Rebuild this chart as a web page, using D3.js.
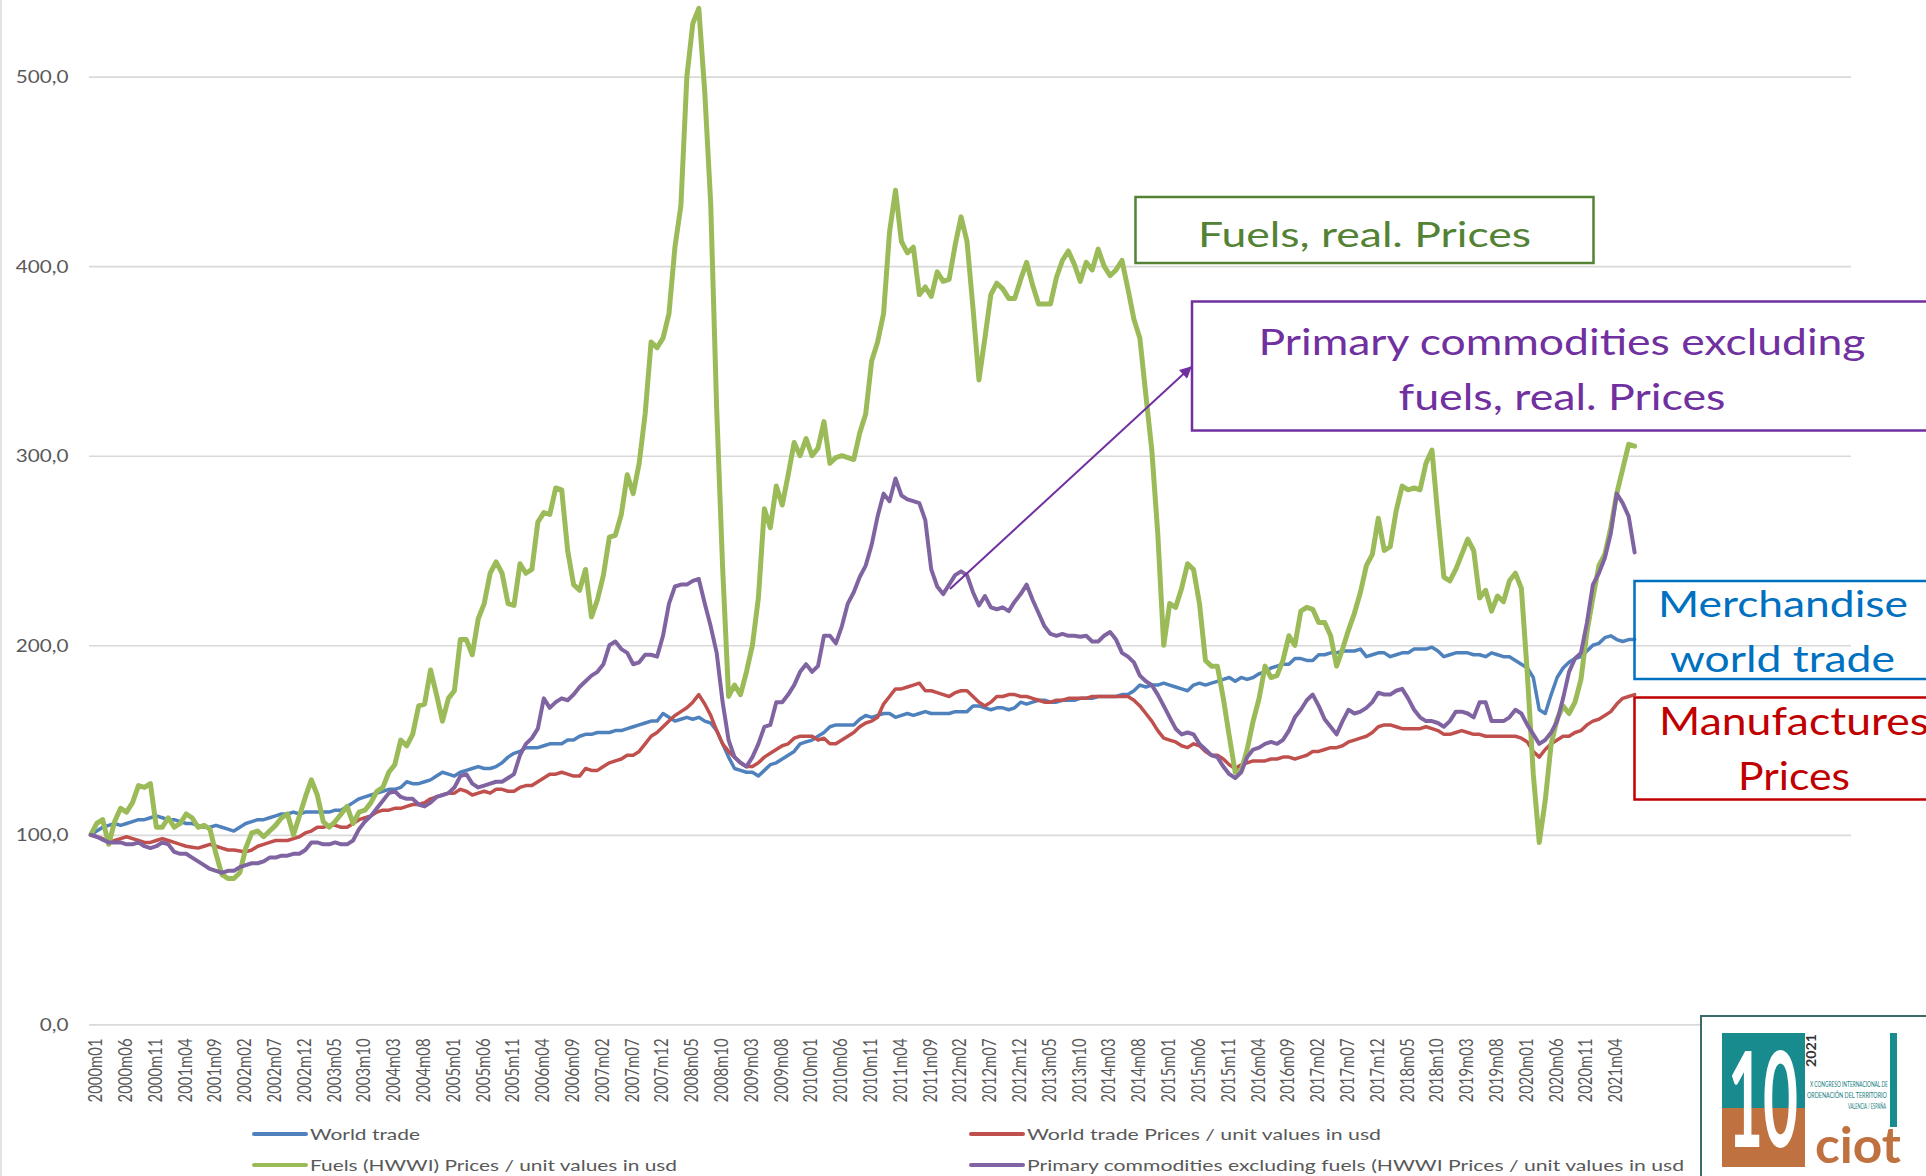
<!DOCTYPE html>
<html lang="en">
<head>
<meta charset="UTF-8" />
<title>World trade and prices, 2000m01 - 2021m08</title>
<script src="https://cdn.jsdelivr.net/npm/d3@7"></script>
<style>
  html, body { margin: 0; padding: 0; background: #fff; }
  svg { display: block; }
  text { font-family: Lato, "Liberation Sans", sans-serif; }
</style>
</head>
<body>
<div id="chart"></div>
<script>
// ---- data (index 2000m01 = 100) ----
const yTicks = [0, 100, 200, 300, 400, 500];

const tickLabels = [
  "2000m01","2000m06","2000m11","2001m04","2001m09","2002m02","2002m07","2002m12",
  "2003m05","2003m10","2004m03","2004m08","2005m01","2005m06","2005m11","2006m04",
  "2006m09","2007m02","2007m07","2007m12","2008m05","2008m10","2009m03","2009m08",
  "2010m01","2010m06","2010m11","2011m04","2011m09","2012m02","2012m07","2012m12",
  "2013m05","2013m10","2014m03","2014m08","2015m01","2015m06","2015m11","2016m04",
  "2016m09","2017m02","2017m07","2017m12","2018m05","2018m10","2019m03","2019m08",
  "2020m01","2020m06","2020m11","2021m04"
];

const worldTrade = [
  100,102,104,105,106,105,106,107,108,108, 109,110,109,108,108,107,106,106,105,104,
  104,105,104,103,102,104,106,107,108,108, 109,110,111,111,112,111,112,112,112,112,
  112,113,113,115,117,119,120,121,122,123, 124,124,125,128,127,127,128,129,131,133,
  132,131,133,134,135,136,135,135,136,138, 141,143,144,146,146,146,147,148,148,148,
  150,150,152,153,153,154,154,154,155,155, 156,157,158,159,160,160,164,162,160,161,
  162,161,162,160,159,155,148,141,135,134, 133,133,131,134,137,138,140,142,144,148,
  149,150,152,154,157,158,158,158,158,161, 163,162,163,164,164,162,163,164,163,164,
  165,164,164,164,164,165,165,165,168,168, 167,166,167,167,166,167,170,169,170,171,
  171,170,170,171,171,171,172,172,172,173, 173,173,173,174,174,176,179,178,179,179,
  180,179,178,177,176,179,180,179,180,181, 182,183,181,183,182,183,185,186,188,189,
  190,190,193,193,192,192,195,195,196,196, 197,197,197,198,194,195,196,196,194,195,
  196,196,198,198,198,199,197,194,195,196, 196,196,195,195,194,196,195,194,194,192,
  190,188,183,166,164,174,183,188,191,193, 194,197,200,201,204,205,203,202,203,203
];

const worldTradePrices = [
  100,99,98,96,97,98,99,98,97,96, 96,97,98,97,96,95,94,93.5,93,94,
  95,94,93,92,92,91.5,91,92,94,95, 96,97,97,97,98,99,101,102,104,104,
  105,105,104,104,106,108,109,110,112,113, 113,114,114,115,116,116,117,119,120,121,
  122,122,124,123,121,122,123,122,124,124, 123,123,125,126,126,128,130,132,132,133,
  132,131,131,135,134,134,136,138,139,140, 142,142,144,148,152,154,157,160,163,165,
  167,170,174,169,163,155,148,144,141,138, 136,136,138,141,143,145,147,148,151,152,
  152,152,150,151,148,148,150,152,154,157, 159,160,162,169,173,177,177,178,179,180,
  176,176,175,174,173,175,176,176,173,170, 168,170,173,173,174,174,173,173,172,171,
  170,170,171,171,172,172,172,172,173,173, 173,173,173,173,173,171,168,164,160,155,
  151,150,149,147,146,148,147,144,142,142, 140,137,135,137,138,139,139,139,140,140,
  141,141,140,141,142,144,144,145,146,146, 147,149,150,151,152,154,157,158,158,157,
  156,156,156,156,157,156,155,153,153,154, 155,154,153,153,152,152,152,152,152,152,
  151,149,144,141,145,148,150,152,152,154, 155,158,160,161,163,165,169,172,173,174
];

const fuels = [
  100,106,108,95,107,114,112,117,126,125, 127,104,104,109,104,106,111,109,104,105,
  103,90,79,77,77,80,93,101,102,99, 102,105,109,111,100,110,120,129,121,107,
  104,107,111,115,106,112,113,117,123,125, 133,137,150,147,153,168,169,187,174,160,
  172,176,203,203,195,214,222,238,244,238, 222,221,243,238,240,265,270,269,283,282,
  250,232,229,240,215,224,237,257,258,269, 290,280,296,322,360,357,362,375,410,432,
  500,528,536,492,433,325,241,173,179,174, 186,200,225,272,262,284,274,290,307,300,
  309,300,304,318,296,299,300,299,298,312, 322,350,360,375,418,440,413,407,410,385,
  389,384,397,392,393,411,426,413,378,340, 362,385,391,388,383,383,393,402,390,380,
  380,380,394,403,408,401,392,402,398,409, 400,395,398,403,388,372,362,332,303,259,
  200,222,220,230,243,240,222,192,189,189, 172,152,133,134,145,160,172,189,183,184,
  192,205,200,218,220,219,212,212,205,189, 198,208,217,228,242,248,267,250,252,271,
  284,282,283,282,296,303,268,236,234,240, 248,256,250,225,229,218,226,223,234,238,
  230,185,132,96,118,148,161,168,164,170, 182,207,225,242,248,262,280,293,306,305
];

const primaryNonFuel = [
  100,99,97.5,96,96,96,95,95,96,94, 93,94,96,95,91,90,90,88,86,84,
  82,81,80,81,81,83,84,85,85,86, 88,88,89,89,90,90,92,96,96,95,
  95,96,95,95,97,103,107,110,114,118, 122,123,120,119,119,116,115,117,120,121,
  122,125,131,132,127,125,126,127,128,128, 130,132,142,148,151,156,172,167,170,172,
  171,174,178,181,184,186,190,200,202,198, 196,190,191,195,195,194,205,222,231,232,
  232,234,235,222,210,196,170,150,141,138, 136,141,148,157,158,170,170,174,179,186,
  190,186,189,205,205,201,210,222,228,236, 242,253,268,280,276,288,279,277,276,275,
  266,240,231,227,232,237,239,237,228,221, 226,220,219,220,218,223,227,232,224,217,
  210,206,205,206,205,205,204.5,205,202,202, 205,207,203,196,194,191,184,181,179,174,
  168,162,156,153,154,153,148,145,142,141, 136,132,130,133,141,145,146,148,149,148,
  150,155,162,166,171,174,168,161,157,153, 160,166,164,165,167,170,175,174,174,176,
  177,172,166,162,160,160,159,157,160,165, 165,164,162,170,170,160,160,160,162,166,
  164,158,153,148,150,154,160,172,186,193, 196,212,232,238,246,259,280,275,268,249
];

// category axis runs past the data (empty slots on the right)
const startYear = 2000;
const slotCount = 296;
const months = d3.range(slotCount).map(i =>
  `${startYear + Math.floor(i / 12)}m${String(i % 12 + 1).padStart(2, "0")}`);

const series = [
  { name: "World trade", values: worldTrade, color: "#4f81bd", width: 3.5 },
  { name: "World trade Prices / unit values in usd", values: worldTradePrices, color: "#c0504d", width: 3.5 },
  { name: "Fuels (HWWI) Prices / unit values in usd", values: fuels, color: "#9bbb59", width: 5 },
  { name: "Primary commodities excluding fuels (HWWI Prices / unit values in usd", values: primaryNonFuel, color: "#8064a2", width: 4 }
];

// ---- layout ----
const W = 1926, H = 1176;
const plot = { left: 89, right: 1851, top: 76.6, bottom: 1024.4 };
const stretch = 1.27; // text in the picture is wider than its height suggests

const svg = d3.select("#chart").append("svg")
  .attr("width", W).attr("height", H)
  .attr("viewBox", `0 0 ${W} ${H}`);

// squeeze / widen a text horizontally around its own x,y so it spans `width`
function fitX(sel, width) {
  sel.each(function (d, i) {
    const w = typeof width === "function" ? width(d, i) : width;
    const t = d3.select(this);
    const k = w / this.getComputedTextLength();
    const x0 = +t.attr("x"), y0 = +t.attr("y");
    t.attr("transform", `translate(${x0},${y0}) scale(${k},1) translate(${-x0},${-y0})`);
  });
}

svg.append("rect").attr("width", W).attr("height", H).attr("fill", "#fff");
// chart area left border
svg.append("line").attr("x1", 1).attr("x2", 1).attr("y1", 0).attr("y2", H)
  .attr("stroke", "#d9d9d9").attr("stroke-width", 1.5);

const x = d3.scalePoint().domain(months).range([plot.left, plot.right]).padding(0.3);
const y = d3.scaleLinear().domain([0, 500]).range([plot.bottom, plot.top]);

// y axis + gridlines
const gy = svg.append("g")
  .attr("transform", `translate(${plot.left},0)`)
  .call(d3.axisLeft(y).tickValues(yTicks)
    .tickSize(-(plot.right - plot.left))
    .tickFormat(d => d.toFixed(1).replace(".", ",")));
gy.select(".domain").remove();
gy.selectAll(".tick line").attr("stroke", "#d9d9d9").attr("stroke-width", 1.6);
gy.selectAll(".tick text")
  .attr("x", 0).attr("dy", null)
  .attr("text-anchor", "end")
  .attr("transform", `translate(${68.5 - plot.left},5.9) scale(${stretch},1)`)
  .attr("fill", "#595959")
  .style("font-size", "16.3px");

// x axis labels (rotated)
const gx = svg.append("g")
  .attr("transform", `translate(0,${plot.bottom})`)
  .call(d3.axisBottom(x).tickValues(tickLabels).tickSize(0));
gx.select(".domain").remove();
gx.selectAll(".tick text")
  .attr("x", 0).attr("y", 0).attr("dy", "0.36em")
  .attr("text-anchor", "end")
  .attr("transform", `translate(4,14) scale(${stretch},1) rotate(-90)`)
  .attr("fill", "#595959")
  .style("font-size", "15px")
  .attr("textLength", 64).attr("lengthAdjust", "spacingAndGlyphs");

// lines
const line = d3.line()
  .x((d, i) => x(months[i]))
  .y(d => y(d));

svg.append("g").selectAll("path")
  .data(series)
  .join("path")
  .attr("d", d => line(d.values))
  .attr("fill", "none")
  .attr("stroke", d => d.color)
  .attr("stroke-width", d => d.width)
  .attr("stroke-linejoin", "round")
  .attr("stroke-linecap", "round");

// legend
const legendPos = [
  { x: 254, y: 1134, w: 110 },
  { x: 971, y: 1134, w: 354 },
  { x: 254, y: 1165, w: 367 },
  { x: 971, y: 1165, w: 657 }
];
const lg = svg.append("g").selectAll("g")
  .data(series)
  .join("g")
  .attr("transform", (d, i) => `translate(${legendPos[i].x},${legendPos[i].y})`);
lg.append("line")
  .attr("x1", 0).attr("x2", 52).attr("y1", 0).attr("y2", 0)
  .attr("stroke", d => d.color).attr("stroke-width", 4)
  .attr("stroke-linecap", "round");
lg.append("text")
  .attr("x", 56).attr("y", 5.5)
  .attr("fill", "#595959")
  .style("font-size", "15px")
  .attr("textLength", (d, i) => legendPos[i].w)
  .attr("lengthAdjust", "spacingAndGlyphs")
  .text(d => d.name);

// annotation boxes
const notes = [
  { box: [1135.5, 197, 458, 66], color: "#548235", size: 34,
    lines: [{ t: "Fuels, real. Prices", cx: 1364.5, y: 246.5, w: 333 }] },
  { box: [1192, 301.5, 760, 129], color: "#7030a0", size: 36,
    lines: [{ t: "Primary commodities excluding", cx: 1562, y: 355, w: 607 },
            { t: "fuels, real. Prices", cx: 1562, y: 410, w: 327 }] },
  { box: [1634.5, 581, 320, 98], color: "#0070c0", size: 37,
    lines: [{ t: "Merchandise", cx: 1783, y: 616.5, w: 250 },
            { t: "world trade", cx: 1782.5, y: 671.5, w: 225 }] },
  { box: [1634.5, 697.5, 340, 102], color: "#c00000", size: 39,
    lines: [{ t: "Manufactures", cx: 1794, y: 735, w: 270 },
            { t: "Prices", cx: 1794, y: 790, w: 112 }] }
];
const ng = svg.append("g").selectAll("g").data(notes).join("g");
ng.append("rect")
  .attr("x", d => d.box[0]).attr("y", d => d.box[1])
  .attr("width", d => d.box[2]).attr("height", d => d.box[3])
  .attr("fill", "none").attr("stroke", d => d.color).attr("stroke-width", 2.5);
ng.each(function (d) {
  d3.select(this).selectAll("text")
    .data(d.lines)
    .join("text")
    .attr("x", l => l.cx).attr("y", l => l.y)
    .attr("text-anchor", "middle")
    .attr("fill", d.color)
    .style("font-size", d.size + "px")
    .attr("textLength", l => l.w).attr("lengthAdjust", "spacingAndGlyphs")
    .text(l => l.t);
});

// arrow to the primary commodities box
const defs = svg.append("defs");
defs.append("marker")
  .attr("id", "arrowhead")
  .attr("viewBox", "0 0 10 10")
  .attr("refX", 9).attr("refY", 5)
  .attr("markerWidth", 16).attr("markerHeight", 12)
  .attr("markerUnits", "userSpaceOnUse")
  .attr("orient", "auto")
  .append("path").attr("d", "M0,0 L10,5 L0,10 Z").attr("fill", "#7030a0");
svg.append("line")
  .attr("x1", 950).attr("y1", 589)
  .attr("x2", 1191).attr("y2", 367)
  .attr("stroke", "#7030a0").attr("stroke-width", 2)
  .attr("marker-end", "url(#arrowhead)");

// logo, bottom right
const logo = svg.append("g");
logo.append("rect").attr("x", 1701).attr("y", 1016).attr("width", 230).attr("height", 165)
  .attr("fill", "#fff").attr("stroke", "#3d6b6b").attr("stroke-width", 2);
logo.append("rect").attr("x", 1722).attr("y", 1033).attr("width", 83).attr("height", 75).attr("fill", "#178b8d");
logo.append("rect").attr("x", 1722).attr("y", 1108).attr("width", 83).attr("height", 59).attr("fill", "#bf713f");
logo.append("text").attr("x", 1763).attr("y", 1147.5)
  .attr("text-anchor", "middle").attr("fill", "#fff")
  .style("font-size", "132px").style("font-weight", "bold")
  .text("10")
  .call(fitX, 70);
logo.append("text")
  .attr("transform", "translate(1816,1067) rotate(-90)")
  .attr("fill", "#333").style("font-size", "13px").style("font-weight", "bold")
  .attr("textLength", 33).attr("lengthAdjust", "spacingAndGlyphs")
  .text("2021");
logo.append("rect").attr("x", 1890).attr("y", 1033).attr("width", 7).attr("height", 94).attr("fill", "#178b8d");
const small = [
  { t: "X CONGRESO INTERNACIONAL DE", y: 1087, x0: 1810, w: 78 },
  { t: "ORDENACIÓN DEL TERRITORIO", y: 1098, x0: 1807, w: 80 },
  { t: "VALENCIA / ESPAÑA", y: 1109, x0: 1848, w: 38 }
];
logo.selectAll("text.small").data(small).join("text")
  .attr("class", "small")
  .attr("x", d => d.x0).attr("y", d => d.y)
  .attr("fill", "#157c7e").style("font-size", "7px")
  .text(d => d.t)
  .call(fitX, d => d.w);
logo.append("text").attr("x", 1815).attr("y", 1163)
  .attr("fill", "#bf713f").style("font-size", "50px").style("font-weight", "bold")
  .text("ciot")
  .call(fitX, 86);
</script>
</body>
</html>
